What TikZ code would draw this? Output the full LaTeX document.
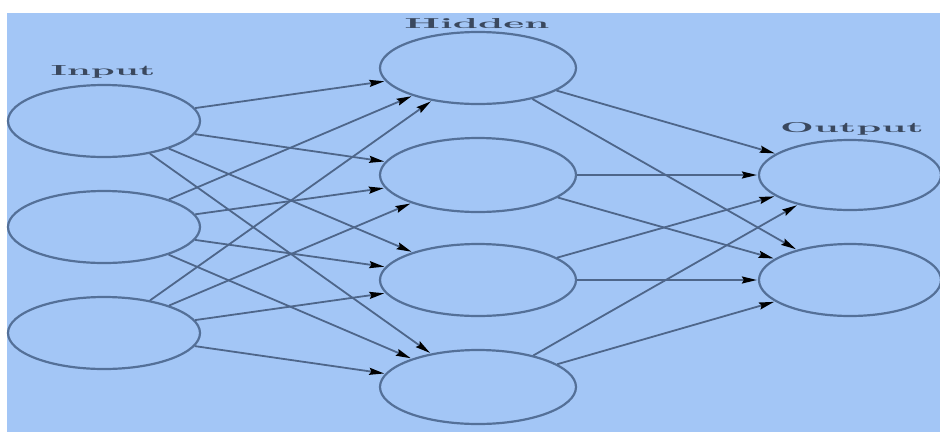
\documentclass[tikz,border=0pt]{standalone}
\usetikzlibrary{shapes.geometric,arrows.meta}
\definecolor{bgblue}{RGB}{163,198,246}
\definecolor{ringcol}{RGB}{84,112,152}
\definecolor{edgecol}{RGB}{78,102,138}
\definecolor{labcol}{RGB}{58,72,94}
\begin{document}
\begin{tikzpicture}[x=1pt,y=-1pt,
  neuron/.style={draw=ringcol,line width=2.2pt,ellipse,inner sep=0pt,minimum width=192pt,minimum height=72pt},
  conn/.style={draw=edgecol,line width=1.8pt,-{Stealth[length=15pt,width=7pt,inset=2pt,color=black]},shorten >=1pt},
  lab/.style={text=labcol,anchor=base,inner sep=0pt,font=\bfseries}]
\useasboundingbox (0,0) rectangle (940,432);
\fill[white] (0,0) rectangle (940,432);
\fill[bgblue] (7,13) rectangle (940,432);
% input layer
\node[neuron] (I1) at (104,121) {};
\node[neuron] (I2) at (104,227) {};
\node[neuron] (I3) at (104,333) {};
% hidden layer
\node[neuron,minimum width=196pt] (H1) at (478,68) {};
\node[neuron,minimum width=196pt,minimum height=74pt] (H2) at (478,175) {};
\node[neuron,minimum width=196pt] (H3) at (478,280) {};
\node[neuron,minimum width=196pt,minimum height=74pt] (H4) at (478,387) {};
% output layer
\node[neuron,minimum width=182pt,minimum height=70pt] (O1) at (850,175) {};
\node[neuron,minimum width=182pt,minimum height=72pt] (O2) at (850,280) {};
% labels
\node[lab] (LI) at (103,75) {\resizebox{105pt}{10pt}{Input}};
\node[lab] (LH) at (477,28) {\resizebox{145pt}{10pt}{Hidden}};
\node[lab] (LO) at (852,132) {\resizebox{144pt}{10pt}{Output}};
% connections
\foreach \i in {I1,I2,I3}{
  \foreach \h in {H1,H2,H3,H4}{
    \path[conn] (\i) -- (\h);
  }
}
\foreach \h in {H1,H2,H3,H4}{
  \foreach \o in {O1,O2}{
    \path[conn] (\h) -- (\o);
  }
}
\end{tikzpicture}
\end{document}
